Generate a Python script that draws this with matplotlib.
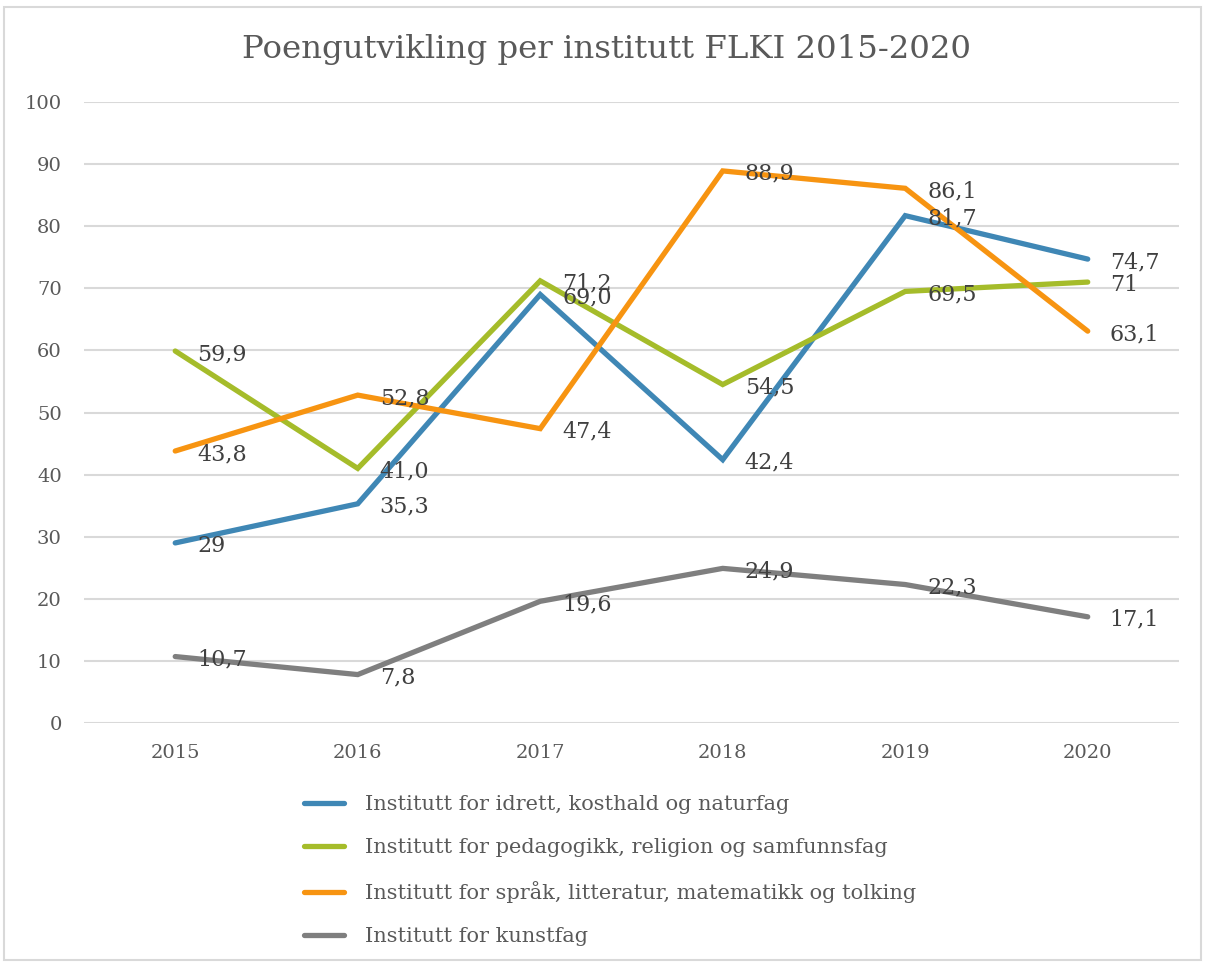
import matplotlib.pyplot as plt
from matplotlib.patches import Rectangle

years = ['2015', '2016', '2017', '2018', '2019', '2020']
names = ['Institutt for idrett, kosthald og naturfag',
         'Institutt for pedagogikk, religion og samfunnsfag',
         'Institutt for språk, litteratur, matematikk og tolking',
         'Institutt for kunstfag']
idrett = [29, 35.3, 69.0, 42.4, 81.7, 74.7]
pedagogikk = [59.9, 41.0, 71.2, 54.5, 69.5, 71]
spraak = [43.8, 52.8, 47.4, 88.9, 86.1, 63.1]
kunst = [10.7, 7.8, 19.6, 24.9, 22.3, 17.1]
idrett_lbl = ['29', '35,3', '69,0', '42,4', '81,7', '74,7']
pedagogikk_lbl = ['59,9', '41,0', '71,2', '54,5', '69,5', '71']
spraak_lbl = ['43,8', '52,8', '47,4', '88,9', '86,1', '63,1']
kunst_lbl = ['10,7', '7,8', '19,6', '24,9', '22,3', '17,1']
colors = ['#3F87B5', '#A5BC2A', '#F79411', '#7F7F7F']

plt.rcParams['font.family'] = ['DejaVu Serif']
fig = plt.figure(figsize=(12.05, 9.63), dpi=100)
fig.patches.append(Rectangle((0.003, 0.003), 0.994, 0.99, transform=fig.transFigure,
                             fill=False, edgecolor='#D9D9D9', lw=1.5))
ax = fig.add_axes([0.0697, 0.2492, 0.9087, 0.6449])

x = range(len(years))
series = [idrett, pedagogikk, spraak, kunst]
labels = [idrett_lbl, pedagogikk_lbl, spraak_lbl, kunst_lbl]
for vals, name, c in zip(series, names, colors):
    ax.plot(x, vals, color=c, lw=3.8, label=name, solid_capstyle='round',
            solid_joinstyle='miter')
for vals, lbls in zip(series, labels):
    for i, (v, t) in enumerate(zip(vals, lbls)):
        ax.annotate(t, (i, v), xytext=(22, -3), textcoords='offset pixels',
                    ha='left', va='center', fontsize=16, color='#404040', zorder=5)

ax.set_xlim(-0.5, 5.5)
ax.set_ylim(0, 100)
ax.set_yticks(range(0, 101, 10))
ax.set_xticks(list(x))
ax.set_xticklabels(years)
ax.grid(axis='y', color='#D9D9D9', lw=1.5)
ax.set_axisbelow(True)
for s in ax.spines.values():
    s.set_visible(False)
ax.tick_params(length=0, labelsize=14, colors='#595959', pad=15)
ax.tick_params(axis='y', pad=16)

fig.text(0.503, 0.949, 'Poengutvikling per institutt FLKI 2015-2020',
         ha='center', va='center', fontsize=23.3, color='#595959')
fig.legend(loc='upper left', bbox_to_anchor=(0.245, 0.183), frameon=False,
           fontsize=15, labelcolor='#595959', handlelength=1.95, handletextpad=1.0,
           labelspacing=1.15, borderaxespad=0)

fig.savefig('out.png', dpi=100)
